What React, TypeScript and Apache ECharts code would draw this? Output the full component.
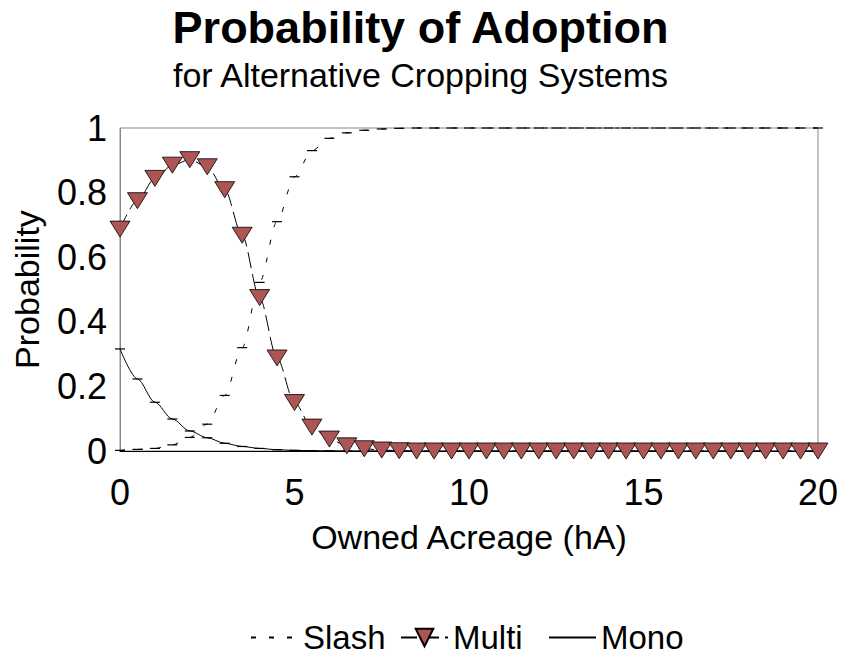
import React, { useEffect, useRef } from "react";
import * as echarts from "echarts";

const xs = [0, 0.5, 1, 1.5, 2, 2.5, 3, 3.5, 4, 4.5, 5, 5.5, 6, 6.5, 7, 7.5, 8, 8.5, 9, 9.5, 10, 10.5, 11, 11.5, 12, 12.5, 13, 13.5, 14, 14.5, 15, 15.5, 16, 16.5, 17, 17.5, 18, 18.5, 19, 19.5, 20];

const slash = [0.002, 0.005, 0.008, 0.019, 0.042, 0.083, 0.172, 0.32, 0.522, 0.71, 0.849, 0.93, 0.968, 0.985, 0.993, 0.997, 0.999, 1, 1, 1, 1, 1, 1, 1, 1, 1, 1, 1, 1, 1, 1, 1, 1, 1, 1, 1, 1, 1, 1, 1, 1];

const multi = [0.687, 0.775, 0.844, 0.885, 0.902, 0.88, 0.809, 0.668, 0.475, 0.288, 0.15, 0.074, 0.037, 0.016, 0.007, 0.003, 0.001, 0, 0, 0, 0, 0, 0, 0, 0, 0, 0, 0, 0, 0, 0, 0, 0, 0, 0, 0, 0, 0, 0, 0, 0];

const mono = [0.316, 0.223, 0.151, 0.099, 0.062, 0.041, 0.024, 0.014, 0.008, 0.004, 0.002, 0.001, 0.0005, 0.0002, 0.0001, 0, 0, 0, 0, 0, 0, 0, 0, 0, 0, 0, 0, 0, 0, 0, 0, 0, 0, 0, 0, 0, 0, 0, 0, 0, 0];

const seriesNames = ["Slash", "Multi", "Mono"];
const xTicks = [0, 5, 10, 15, 20];
const yTickLabels = ["0", "0.2", "0.4", "0.6", "0.8", "1"];

const FONT = "Liberation Sans, Arial, sans-serif";

function pairs(ys: number[]) {
  return xs.map((x, i) => [x, ys[i]]);
}

const legendLefts = [250, 400, 548];

export default function App() {
  const ref = useRef<HTMLDivElement>(null);
  useEffect(() => {
    document.body.style.margin = "0";
    if (!ref.current) return;
    const chart = echarts.init(ref.current, undefined, { renderer: "svg" });
    const legendBase = {
      bottom: 2,
      padding: 0,
      itemWidth: 47,
      itemHeight: 22,
      textStyle: { fontFamily: FONT, fontSize: 33, color: "#000" },
    };
    chart.setOption({
      animation: false,
      backgroundColor: "#ffffff",
      textStyle: { fontFamily: FONT },
      title: {
        text: "Probability of Adoption",
        subtext: "for Alternative Cropping Systems",
        left: "center",
        top: 0,
        itemGap: 8,
        textStyle: { fontFamily: FONT, fontSize: 45, fontWeight: "bold", color: "#000" },
        subtextStyle: { fontFamily: FONT, fontSize: 34, color: "#000" },
      },
      grid: {
        left: 120,
        right: 21,
        top: 128,
        bottom: 205,
        show: true,
        borderColor: "#888",
        borderWidth: 1,
      },
      legend: [
        { ...legendBase, left: legendLefts[0], data: [{ name: seriesNames[0], itemStyle: { opacity: 0 } }] },
        { ...legendBase, left: legendLefts[1], data: [{ name: seriesNames[1] }] },
        { ...legendBase, left: legendLefts[2], data: [{ name: seriesNames[2], itemStyle: { opacity: 0 } }] },
      ],
      xAxis: {
        type: "value",
        min: 0,
        max: 20,
        interval: 5,
        name: "Owned Acreage (hA)",
        nameLocation: "middle",
        nameGap: 69,
        nameTextStyle: { fontFamily: FONT, fontSize: 34, color: "#000" },
        axisLine: { show: true, lineStyle: { color: "#000", width: 1 } },
        axisTick: { show: false },
        splitLine: { show: false },
        axisLabel: {
          fontFamily: FONT,
          fontSize: 36,
          color: "#000",
          margin: 23,
          formatter: (v: number) => (xTicks.indexOf(v) >= 0 ? String(v) : ""),
        },
      },
      yAxis: {
        type: "value",
        min: 0,
        max: 1,
        interval: 0.2,
        name: "Probability",
        nameLocation: "middle",
        nameGap: 76,
        nameTextStyle: { fontFamily: FONT, fontSize: 34, color: "#000" },
        axisLine: { show: true, lineStyle: { color: "#888", width: 1 } },
        axisTick: { show: false },
        splitLine: { show: false },
        axisLabel: {
          fontFamily: FONT,
          fontSize: 36,
          color: "#000",
          margin: 13,
          formatter: (v: number) => yTickLabels[Math.round(v * 5)] ?? "",
        },
      },
      series: [
        {
          name: seriesNames[0],
          type: "line",
          data: pairs(slash),
          smooth: 0.3,
          smoothMonotone: "x",
          clip: false,
          symbol: "rect",
          symbolSize: [10, 1.2],
          showAllSymbol: true,
          itemStyle: { color: "#000" },
          lineStyle: { color: "#000", width: 1, type: [5, 13] },
          z: 2,
        },
        {
          name: seriesNames[1],
          type: "line",
          data: pairs(multi),
          smooth: 0.3,
          smoothMonotone: "x",
          clip: false,
          symbol: "triangle",
          symbolRotate: 180,
          symbolSize: [20, 16],
          showAllSymbol: true,
          itemStyle: { color: "#AD5555", borderColor: "#000", borderWidth: 0.8 },
          lineStyle: { color: "#000", width: 1, type: [16, 6] },
          z: 5,
        },
        {
          name: seriesNames[2],
          type: "line",
          data: pairs(mono),
          smooth: 0.3,
          smoothMonotone: "x",
          clip: false,
          symbol: "rect",
          symbolSize: [10, 1.2],
          showAllSymbol: true,
          itemStyle: { color: "#000" },
          lineStyle: { color: "#000", width: 1, type: "solid" },
          z: 3,
        },
      ],
    });
    return () => chart.dispose();
  }, []);
  return <div ref={ref} style={{ width: 841, height: 656 }} />;
}
